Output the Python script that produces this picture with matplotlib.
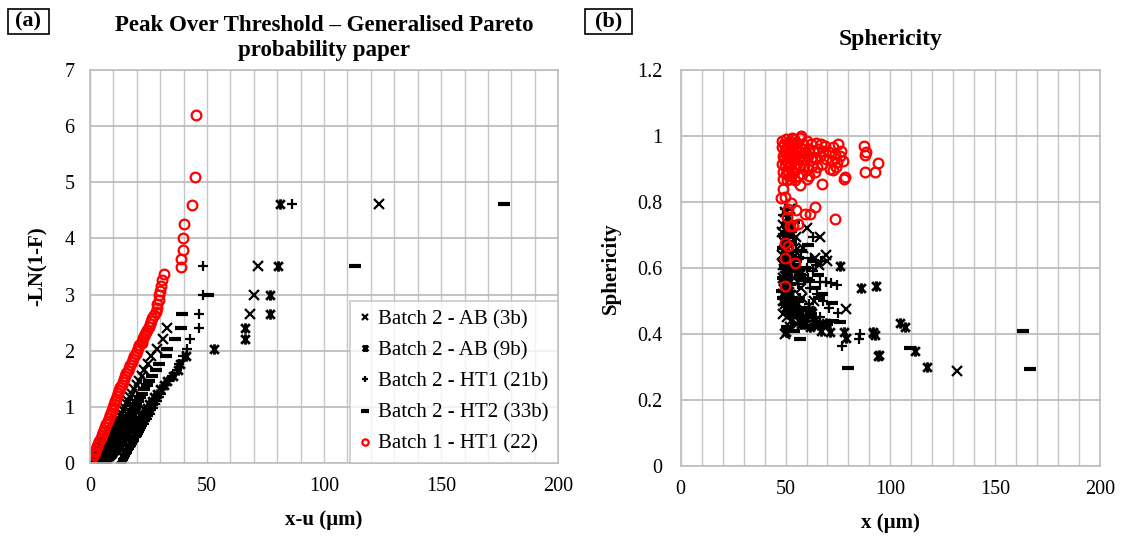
import matplotlib.pyplot as plt
from matplotlib.path import Path
from matplotlib.patches import Rectangle

plt.rcParams["font.family"] = ["Liberation Serif", "DejaVu Serif"]

# -LN(1-F) plotting positions for the 50-point black batches (rank 1 = largest)
rank_y = [4.61, 3.51, 3.00, 2.66, 2.41, 2.21, 2.04, 1.90, 1.77, 1.66,
          1.56, 1.47, 1.39, 1.32, 1.24, 1.17, 1.11, 1.05, 0.99, 0.94,
          0.88, 0.84, 0.79, 0.75, 0.70, 0.67, 0.63, 0.59, 0.56, 0.52,
          0.49, 0.46, 0.42, 0.40, 0.37, 0.34, 0.31, 0.28, 0.26, 0.23,
          0.21, 0.18, 0.16, 0.14, 0.12, 0.09, 0.07, 0.05, 0.03, 0.01]

pot_ab3 = [123.5, 71.9, 70.2, 68.4, 33.0, 31.3, 28.8, 26.0, 24.6, 23.2,
           22.0, 20.9, 19.9, 19.0, 18.0, 17.2, 16.4, 15.6, 14.9, 14.2,
           13.5, 12.9, 12.3, 11.7, 11.1, 10.6, 10.0, 9.5, 9.0, 8.5,
           8.0, 7.5, 7.1, 6.6, 6.2, 5.7, 5.3, 4.9, 4.5, 4.1,
           3.7, 3.3, 2.9, 2.5, 2.1, 1.7, 1.3, 0.9, 0.6, 0.2]
pot_ab9 = [81.2, 80.5, 76.9, 76.9, 66.1, 66.1, 53.1, 41.0, 38.5, 37.7,
           35.5, 33.0, 31.5, 30.0, 28.6, 27.4, 26.3, 25.2, 24.2, 23.3,
           22.4, 21.6, 20.8, 20.0, 19.2, 18.5, 17.8, 17.1, 16.4, 15.8,
           15.2, 14.6, 14.0, 13.5, 13.0, 12.5, 12.0, 11.5, 11.0, 10.5,
           10.0, 9.5, 9.0, 8.5, 8.0, 7.4, 6.8, 6.0, 5.0, 3.5]
pot_ht1 = [86.2, 48.4, 48.4, 46.6, 46.6, 42.7, 41.6, 39.9, 38.0, 37.0,
           35.0, 33.8, 32.5, 31.3, 30.2, 29.3, 28.5, 27.7, 26.9, 26.2,
           25.5, 24.8, 24.2, 23.6, 23.0, 22.4, 21.9, 21.4, 20.9, 20.4,
           19.9, 19.5, 19.0, 18.6, 18.2, 17.8, 17.4, 17.0, 16.7, 16.3,
           16.0, 15.7, 15.4, 15.1, 14.8, 14.5, 14.2, 13.9, 13.6, 13.3]
pot_ht2 = [177.0, 113.0, 50.6, 39.2, 38.8, 36.3, 33.0, 32.5, 29.6, 28.0,
           26.5, 25.3, 24.2, 23.2, 22.3, 21.4, 20.6, 19.8, 19.1, 18.4,
           17.7, 17.0, 16.4, 15.8, 15.2, 14.6, 14.1, 13.5, 13.0, 12.5,
           12.0, 11.5, 11.0, 10.5, 10.0, 9.6, 9.2, 8.7, 8.3, 7.9,
           7.5, 7.1, 6.7, 6.3, 5.9, 5.5, 5.1, 4.6, 4.0, 3.0]

pot_b1_x = [45.3, 44.9, 43.6, 40.2, 39.6, 39.6, 38.9, 38.9, 31.8, 30.6,
            30.2, 29.9, 29.6, 29.3, 28.8, 28.5, 28.2, 27.4, 26.4, 26.0,
            25.5, 25.0, 24.5, 24.0, 23.6, 23.2, 22.8, 22.4, 22.0, 21.1,
            20.6, 20.0, 19.5, 18.9, 18.3, 17.8, 17.2, 16.7, 16.1, 15.5,
            15.0, 14.4, 13.9, 13.5, 13.0, 12.5, 12.1, 11.6, 11.2, 10.7,
            10.2, 9.8, 9.3, 8.9, 8.4, 7.9, 7.5, 7.0, 6.5, 6.0,
            5.5, 5.0, 4.5, 4.0, 3.5, 3.0, 2.5, 2.0, 1.5, 1.0, 0.5, 0.1]
pot_b1_y = [6.20, 5.10, 4.59, 4.25, 4.00, 3.80, 3.63, 3.49, 3.37, 3.26,
            3.16, 3.07, 2.99, 2.91, 2.84, 2.77, 2.70, 2.64, 2.59, 2.53,
            2.48, 2.43, 2.38, 2.34, 2.30, 2.26, 2.22, 2.18, 2.14, 2.10,
            2.05, 2.00, 1.95, 1.90, 1.85, 1.80, 1.75, 1.70, 1.65, 1.60,
            1.55, 1.50, 1.45, 1.40, 1.35, 1.30, 1.25, 1.20, 1.15, 1.10,
            1.05, 1.00, 0.95, 0.90, 0.85, 0.80, 0.75, 0.70, 0.65, 0.60,
            0.55, 0.50, 0.45, 0.40, 0.35, 0.30, 0.25, 0.20, 0.15, 0.10, 0.05, 0.01]

# sphericity vs particle size
sph_ab3_x = [131.6, 79.0, 66.3, 60.0, 55.2, 69.5, 64.0, 58.5, 52.0, 49.5,
             50.5, 48.8, 51.5, 53.0, 49.2, 50.0, 48.5, 52.5, 54.0, 57.0,
             49.0, 51.0, 50.2, 48.7, 53.5, 56.0, 61.0, 49.8, 51.8, 48.9,
             50.6, 52.8, 55.5, 59.5, 62.5, 49.3, 50.9, 48.6, 51.3, 54.5,
             66.0, 70.0, 58.0, 49.6, 52.2, 50.3, 48.4, 53.8, 57.5, 63.5]
sph_ab3_y = [0.288, 0.476, 0.695, 0.72, 0.695, 0.639, 0.63, 0.66, 0.78, 0.77,
             0.75, 0.73, 0.72, 0.70, 0.68, 0.66, 0.64, 0.62, 0.60, 0.58,
             0.57, 0.55, 0.53, 0.52, 0.50, 0.49, 0.47, 0.49, 0.47, 0.46,
             0.45, 0.44, 0.43, 0.45, 0.46, 0.56, 0.59, 0.61, 0.63, 0.65,
             0.61, 0.62, 0.51, 0.40, 0.42, 0.69, 0.71, 0.57, 0.54, 0.50]
sph_ab9_x = [104.6, 107.0, 91.8, 92.7, 94.7, 111.7, 117.6, 86.2, 93.3, 75.9,
             77.8, 78.7, 91.7, 94.1, 50.1, 65.5, 69.5, 71.1, 58.0, 60.5,
             62.0, 63.5, 59.0, 61.5, 48.5, 49.0, 49.5, 50.0, 50.5, 51.0,
             51.5, 52.0, 48.7, 49.3, 49.8, 50.3, 50.8, 51.3, 52.5, 53.0,
             53.5, 54.5, 55.5, 56.5, 48.9, 49.6, 50.6, 52.2, 57.5, 67.0]
sph_ab9_y = [0.432, 0.422, 0.407, 0.397, 0.336, 0.349, 0.301, 0.538, 0.545, 0.607,
             0.407, 0.387, 0.402, 0.333, 0.405, 0.427, 0.432, 0.407, 0.45, 0.46,
             0.47, 0.44, 0.43, 0.42, 0.50, 0.52, 0.48, 0.54, 0.51, 0.49,
             0.53, 0.47, 0.56, 0.58, 0.60, 0.55, 0.57, 0.59, 0.52, 0.49,
             0.50, 0.48, 0.46, 0.44, 0.62, 0.64, 0.66, 0.61, 0.43, 0.41]
sph_ht1_x = [85.5, 85.1, 76.7, 75.0, 63.1, 66.3, 69.5, 71.9, 74.3, 62.0,
             64.5, 67.0, 60.0, 58.0, 55.5, 53.0, 51.0, 49.5, 48.5, 50.2,
             52.5, 54.0, 56.5, 59.0, 61.5, 65.0, 68.0, 70.5, 49.0, 50.8,
             52.0, 53.6, 55.0, 57.5, 48.8, 51.6, 49.8, 53.3, 56.0, 60.5,
             63.0, 66.5, 58.5, 54.8, 50.5, 49.2, 52.8, 57.0, 61.0, 64.0]
sph_ht1_y = [0.40, 0.385, 0.362, 0.463, 0.695, 0.558, 0.558, 0.553, 0.548, 0.63,
             0.61, 0.62, 0.60, 0.58, 0.57, 0.59, 0.62, 0.64, 0.66, 0.68,
             0.64, 0.62, 0.60, 0.56, 0.54, 0.52, 0.50, 0.48, 0.70, 0.72,
             0.74, 0.67, 0.65, 0.63, 0.76, 0.69, 0.78, 0.71, 0.55, 0.57,
             0.59, 0.45, 0.47, 0.50, 0.55, 0.60, 0.53, 0.51, 0.49, 0.44]
sph_ht2_x = [163.4, 166.6, 109.3, 79.8, 75.9, 72.2, 72.7, 56.8, 62.4, 68.0,
             70.0, 60.0, 58.5, 55.0, 53.0, 51.5, 50.0, 49.0, 48.5, 52.0,
             54.5, 57.0, 61.0, 64.0, 66.0, 49.5, 50.5, 51.0, 53.5, 55.5,
             48.8, 52.5, 56.0, 59.5, 63.0, 65.5, 67.5, 58.0, 54.0, 50.8,
             49.2, 51.8, 53.8, 57.5, 60.5, 62.0, 48.6, 50.3, 55.8, 61.5]
sph_ht2_y = [0.409, 0.293, 0.357, 0.296, 0.437, 0.493, 0.44, 0.385, 0.422, 0.42,
             0.43, 0.42, 0.44, 0.43, 0.45, 0.47, 0.49, 0.51, 0.53, 0.55,
             0.57, 0.58, 0.56, 0.54, 0.51, 0.60, 0.62, 0.64, 0.61, 0.59,
             0.66, 0.68, 0.63, 0.60, 0.62, 0.58, 0.52, 0.48, 0.41, 0.42,
             0.70, 0.72, 0.74, 0.65, 0.67, 0.46, 0.57, 0.53, 0.50, 0.45]

sph_b1_x = [48.5, 49.2, 50.1, 51.0, 52.0, 53.1, 54.2, 55.5, 57.0, 58.5, 60.0, 62.0, 64.5, 67.0, 69.0, 72.5,
            48.3, 49.8, 50.7, 51.8, 52.9, 54.0, 55.2, 56.5, 58.0, 59.5, 61.0, 63.0, 65.5, 68.0, 70.5, 73.5,
            48.6, 49.4, 50.4, 51.4, 52.5, 53.7, 54.8, 56.0, 57.5, 59.0, 60.5, 62.5, 64.0, 66.5, 69.5, 72.0, 74.5,
            48.4, 49.6, 50.6, 51.7, 52.8, 54.0, 55.5, 57.0, 58.8, 60.5, 62.5, 65.0, 67.5, 71.0, 74.0,
            48.8, 50.0, 51.2, 52.4, 53.8, 55.8, 58.0, 61.0, 64.0,
            49.0, 50.5, 52.0, 54.5, 56.8, 60.0, 67.4, 72.7, 77.8, 78.2,
            76.0, 77.5, 76.5, 75.0, 57.5, 53.0,
            87.3, 88.6, 88.1, 94.1, 87.8, 92.5,
            48.9, 49.7, 48.0, 52.8, 64.0, 73.5, 50.5, 52.0, 53.6, 56.0, 55.2, 59.2, 61.6, 51.2,
            49.7, 51.2, 49.7, 54.4, 49.7]
sph_b1_y = [0.985, 0.975, 0.99, 0.98, 0.985, 0.975, 0.99, 0.98, 0.995, 0.975, 0.985, 0.975, 0.98, 0.975, 0.97, 0.965,
            0.965, 0.955, 0.965, 0.95, 0.96, 0.95, 0.96, 0.955, 0.96, 0.95, 0.96, 0.955, 0.96, 0.955, 0.95, 0.945,
            0.94, 0.93, 0.945, 0.935, 0.94, 0.93, 0.94, 0.93, 0.94, 0.93, 0.94, 0.935, 0.93, 0.94, 0.93, 0.925, 0.92,
            0.915, 0.91, 0.92, 0.905, 0.915, 0.905, 0.915, 0.905, 0.91, 0.90, 0.91, 0.905, 0.915, 0.90, 0.905,
            0.89, 0.885, 0.895, 0.88, 0.89, 0.88, 0.885, 0.88, 0.89,
            0.87, 0.865, 0.87, 0.865, 0.852, 0.87, 0.855, 0.897, 0.869, 0.877,
            0.94, 0.925, 0.955, 0.975, 1.0, 0.995,
            0.968, 0.952, 0.942, 0.919, 0.892, 0.892,
            0.838, 0.814, 0.811, 0.798, 0.784, 0.748, 0.755, 0.727, 0.727, 0.733, 0.776, 0.764, 0.764, 0.778,
            0.675, 0.667, 0.629, 0.616, 0.546]

labels = ["Batch 2 - AB (3b)", "Batch 2 - AB (9b)", "Batch 2 - HT1 (21b)",
          "Batch 2 - HT2 (33b)", "Batch 1 - HT1 (22)"]

# excel style "star": an x with a vertical bar through it
star = Path([(-1, -1), (1, 1), (-1, 1), (1, -1), (0, -1.2), (0, 1.2)],
            [Path.MOVETO, Path.LINETO, Path.MOVETO, Path.LINETO, Path.MOVETO, Path.LINETO])

styles = [
    dict(marker="x", ms=7, mew=1.6, color="black"),
    dict(marker=star, ms=7.5, mew=2.0, color="black"),
    dict(marker="+", ms=7.5, mew=1.6, color="black"),
    dict(marker="_", ms=8.5, mew=3.0, color="black"),
    dict(marker="o", ms=7, mew=1.6, color="red", mfc="none"),
]

grid_c = "#c6c6c6"

fig = plt.figure(figsize=(11.28, 5.38), dpi=100)
ax1 = fig.add_axes([0.0798, 0.139, 0.415, 0.731])
ax2 = fig.add_axes([0.6035, 0.134, 0.3717, 0.736])


def style_axes(ax, xmax, ymax):
    ax.set_xlim(0, xmax)
    ax.set_ylim(0, ymax)
    ax.set_xticks(range(0, xmax + 1, 50))
    ax.set_xticks(range(0, xmax + 1, 10), minor=True)
    ax.grid(True, axis="x", which="both", color=grid_c, lw=1.0)
    ax.grid(True, axis="y", which="major", color="#bdbdbd", lw=1.3)
    ax.set_axisbelow(True)
    for s in ax.spines.values():
        s.set_color("#bdbdbd")
        s.set_linewidth(1.2)
    ax.tick_params(which="both", length=0, labelsize=14.5)
    ax.tick_params(axis="x", pad=10)
    ax.tick_params(axis="y", pad=11)


# (a) peak over threshold
series_a = [(pot_ab3, rank_y), (pot_ab9, rank_y), (pot_ht1, rank_y),
            (pot_ht2, rank_y), (pot_b1_x, pot_b1_y)]
for (xs, ys), st, lab in zip(series_a, styles, labels):
    ax1.plot(xs, ys, ls="none", label=lab, **st)
style_axes(ax1, 200, 7)
ax1.set_yticks(range(0, 8))
ax1.set_xlabel("x-u (µm)", fontsize=15, fontweight="bold", labelpad=10)
ax1.set_ylabel("-LN(1-F)", fontsize=15, fontweight="bold", labelpad=12)
ax1.set_title("Peak Over Threshold – Generalised Pareto\nprobability paper",
              fontsize=16.5, fontweight="bold", pad=10, linespacing=1.25)

leg = ax1.legend(loc="lower right", fontsize=15, frameon=True, fancybox=False,
                 borderaxespad=0, handlelength=0.5, handletextpad=0.4,
                 markerscale=0.65, labelspacing=0.55, borderpad=0.45)
leg.get_frame().set_edgecolor("#bdbdbd")
leg.get_frame().set_linewidth(1.2)

# (b) sphericity
series_b = [(sph_ab3_x, sph_ab3_y), (sph_ab9_x, sph_ab9_y), (sph_ht1_x, sph_ht1_y),
            (sph_ht2_x, sph_ht2_y), (sph_b1_x, sph_b1_y)]
for (xs, ys), st in zip(series_b, styles):
    ax2.plot(xs, ys, ls="none", **st)
style_axes(ax2, 200, 1.2)
ax2.set_yticks([0, 0.2, 0.4, 0.6, 0.8, 1.0, 1.2])
ax2.set_yticklabels(["0", "0.2", "0.4", "0.6", "0.8", "1", "1.2"])
ax2.tick_params(axis="y", pad=13)
ax2.set_xlabel("x (µm)", fontsize=15, fontweight="bold", labelpad=10)
ax2.set_ylabel("Sphericity", fontsize=15, fontweight="bold", labelpad=12)
ax2.set_title("Sphericity", fontsize=17, fontweight="bold", pad=18)

# boxed panel letters
for x0, w, txt in [(8, 41, "(a)"), (585, 47, "(b)")]:
    fig.patches.append(Rectangle((x0 / 1128, 1 - 34 / 538), w / 1128, 25 / 538,
                                 transform=fig.transFigure, fill=False,
                                 edgecolor="black", lw=1.2))
    fig.text((x0 + w / 2) / 1128, 1 - 21.5 / 538, txt, ha="center", va="center",
             fontsize=16, fontweight="bold")

fig.savefig("out.png", dpi=100)
